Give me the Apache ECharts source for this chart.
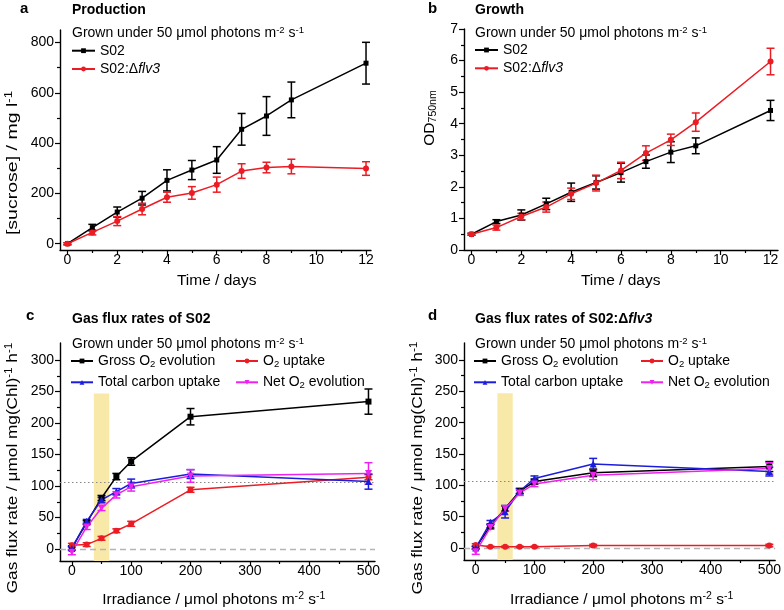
<!DOCTYPE html>
<html>
<head>
<meta charset="utf-8">
<title>Sucrose production, growth and gas flux rates</title>
<script src="https://cdn.jsdelivr.net/npm/echarts@6.0.0/dist/echarts.min.js"></script>
<style>
  html, body { margin: 0; padding: 0; background: #fff; }
  #chart { width: 784px; height: 610px; }
</style>
</head>
<body>
<div id="chart"></div>
<script>
  // ---- data ----
  // a: sucrose production
  const days = [0, 1, 2, 3, 4, 5, 6, 7, 8, 9, 12];
  const sucroseS02 = [0, 64, 126, 181, 252, 293, 333, 455, 508, 572, 718];
  const sucroseS02Err = [4, 13, 20, 27, 42, 38, 53, 63, 77, 71, 83];
  const sucroseFlv3 = [0, 45, 90, 138, 185, 202, 235, 289, 303, 307, 299];
  const sucroseFlv3Err = [4, 10, 18, 23, 20, 25, 30, 29, 21, 29, 27];

  // b: growth (OD750)
  const odS02 = [0.5, 0.9, 1.11, 1.46, 1.83, 2.14, 2.45, 2.8, 3.1, 3.3, 4.42];
  const odS02Err = [0.03, 0.06, 0.16, 0.18, 0.29, 0.21, 0.3, 0.21, 0.33, 0.25, 0.32];
  const odFlv3 = [0.5, 0.71, 1.06, 1.36, 1.78, 2.12, 2.52, 3.07, 3.49, 4.05, 5.97];
  const odFlv3Err = [0.03, 0.08, 0.1, 0.16, 0.18, 0.25, 0.26, 0.23, 0.18, 0.29, 0.42];

  // c, d: gas flux rates vs irradiance
  const irradiance = [0, 25, 50, 75, 100, 200, 500];
  const cGross = [2, 42, 81, 115, 139, 210, 234];
  const cGrossErr = [3, 3, 4, 5, 6, 13, 20];
  const cUptake = [6, 7, 17, 29, 40, 94, 114];
  const cUptakeErr = [3, 3, 3, 3, 4, 4, 4];
  const cCarbon = [1, 44, 78, 91, 104, 119, 107];
  const cCarbonErr = [3, 3, 4, 5, 7, 7, 12];
  const cNet = [-5, 35, 65, 86, 99, 116, 120];
  const cNetErr = [4, 4, 4, 5, 7, 10, 17];

  const dGross = [1, 35, 63, 91, 106, 120, 130];
  const dGrossErr = [2, 3, 4, 4, 4, 6, 8];
  const dUptake = [5, 2, 2, 2, 2, 4, 4];
  const dUptakeErr = [2, 1, 1, 1, 1, 2, 2];
  const dCarbon = [0, 41, 58, 91, 111, 134, 122];
  const dCarbonErr = [2, 3, 10, 4, 4, 9, 7];
  const dNet = [-6, 33, 63, 88, 102, 116, 127];
  const dNetErr = [4, 3, 4, 4, 4, 7, 9];

  const growthLight = [37, 63];   // shaded band: growth light
  const growthLightTop = 247;
  const refRate = 106;            // dotted reference level

  // tick values
  const dayTicks = [0, 2, 4, 6, 8, 10, 12];
  const dayMinor = [1, 3, 5, 7, 9, 11];
  const sucroseTicks = [0, 200, 400, 600, 800];
  const sucroseMinor = [100, 300, 500, 700];
  const odTicks = [0, 1, 2, 3, 4, 5, 6, 7];
  const odMinor = [0.5, 1.5, 2.5, 3.5, 4.5, 5.5, 6.5];
  const irrTicks = [0, 100, 200, 300, 400, 500];
  const irrMinor = [50, 150, 250, 350, 450];
  const rateTicks = [0, 50, 100, 150, 200, 250, 300];
  const rateMinor = [25, 75, 125, 175, 225, 275];

  // ---- styling ----
  const FONT = "'Liberation Sans', Arial, Helvetica, sans-serif";
  const BLACK = '#000000', RED = '#ec1c24', BLUE = '#1c1cdc', MAGENTA = '#ee22ee';
  const DOWN_TRI = 'path://M0,0 L10,0 L5,9 Z';

  const legendNames = {
    'S02': 'S02',
    'S02:Δflv3': 'S02:Δ{i|flv3}',
    'Gross O2 evolution': 'Gross O{sub|2} evolution',
    'O2 uptake': 'O{sub|2} uptake',
    'Total carbon uptake': 'Total carbon uptake',
    'Net O2 evolution': 'Net O{sub|2} evolution'
  };

  const chart = echarts.init(document.getElementById('chart'));

  function grids() {
    return [
      { left: 60, top: 30, width: 311, height: 220 },
      { left: 464, top: 29, width: 314, height: 221 },
      { left: 60, top: 343, width: 315, height: 218 },
      { left: 464, top: 343, width: 314, height: 217 }
    ];
  }

  // each grid gets a main axis (line, big ticks, labels) and a minor-tick axis
  function axisPair(dim, gi, range, major, minor) {
    const main = {
      type: 'value', gridIndex: gi, min: range[0], max: range[1],
      position: dim === 'x' ? 'bottom' : 'left',
      axisLine: { show: true, onZero: false, lineStyle: { color: '#000', width: 1.4 } },
      axisTick: { show: true, customValues: major, length: 5, lineStyle: { color: '#000', width: 1.2 } },
      axisLabel: { customValues: major, margin: dim === 'x' ? 3 : 6, fontSize: 14, color: '#000', fontFamily: FONT },
      splitLine: { show: false }
    };
    const sub = {
      type: 'value', gridIndex: gi, min: range[0], max: range[1],
      position: dim === 'x' ? 'bottom' : 'left',
      axisLine: { show: false, onZero: false },
      axisTick: { show: true, customValues: minor, length: 3, lineStyle: { color: '#000', width: 1.2 } },
      axisLabel: { show: false },
      splitLine: { show: false }
    };
    return [main, sub];
  }

  function line(name, gi, xs, ys, color, symbol, size) {
    return {
      type: 'line', name: name, xAxisIndex: gi * 2, yAxisIndex: gi * 2,
      data: xs.map((x, i) => [x, ys[i]]),
      symbol: symbol, symbolSize: size || 6, showAllSymbol: true,
      lineStyle: { color: color, width: 1.5 }, itemStyle: { color: color },
      silent: true, z: 3
    };
  }

  function errors(gi, xs, ys, es, color) {
    return {
      type: 'custom', xAxisIndex: gi * 2, yAxisIndex: gi * 2,
      data: xs.map((x, i) => [x, ys[i], es[i]]),
      encode: { x: 0, y: 1 }, silent: true, z: 3,
      renderItem: function (params, api) {
        const x = api.value(0), y = api.value(1), e = api.value(2);
        const hi = api.coord([x, y + e]), lo = api.coord([x, y - e]);
        const w = 4;
        const style = { stroke: color, lineWidth: 1.5 };
        return {
          type: 'group', children: [
            { type: 'line', shape: { x1: hi[0], y1: hi[1], x2: lo[0], y2: lo[1] }, style: style },
            { type: 'line', shape: { x1: hi[0] - w, y1: hi[1], x2: hi[0] + w, y2: hi[1] }, style: style },
            { type: 'line', shape: { x1: lo[0] - w, y1: lo[1], x2: lo[0] + w, y2: lo[1] }, style: style }
          ]
        };
      }
    };
  }

  // shaded band + reference lines for the gas flux panels
  function refs(gi, yMin) {
    return {
      type: 'line', xAxisIndex: gi * 2, yAxisIndex: gi * 2, data: [], silent: true,
      markArea: {
        silent: true, z: 1,
        itemStyle: { color: '#f8e9a8' },
        data: [[{ xAxis: growthLight[0], yAxis: yMin }, { xAxis: growthLight[1], yAxis: growthLightTop }]]
      },
      markLine: {
        silent: true, symbol: 'none', z: 1, label: { show: false },
        data: [
          { yAxis: refRate, lineStyle: { color: '#888', type: [1.5, 2.5], width: 1.2 } },
          { yAxis: 0, lineStyle: { color: '#b5b5b5', type: [6, 4], width: 1.4 } }
        ]
      }
    };
  }

  function legend(left, top, names, gap, itemWidth) {
    return {
      orient: 'vertical', left: left, top: top, data: names,
      itemWidth: itemWidth, itemHeight: 6, itemGap: gap, padding: 0,
      selectedMode: false,
      formatter: n => legendNames[n],
      textStyle: {
        fontSize: 14, fontFamily: FONT, color: '#000', lineHeight: 16,
        rich: {
          sub: { fontSize: 9.5, fontFamily: FONT, color: '#000', verticalAlign: 'bottom', lineHeight: 8 },
          i: { fontSize: 14, fontFamily: FONT, color: '#000', fontStyle: 'italic', lineHeight: 16 }
        }
      }
    };
  }

  function label(x, y, text, opt) {
    opt = opt || {};
    const size = opt.size || 14;
    const lh = Math.round(size * 1.15);
    const weight = opt.bold ? 'bold' : 'normal';
    return {
      type: 'text', x: x, y: y, rotation: opt.rotate ? Math.PI / 2 : 0,
      scaleX: opt.stretch || 1, silent: true,
      style: {
        text: text, fill: '#000', fontSize: size, fontFamily: FONT, fontWeight: weight,
        align: opt.align || 'left', verticalAlign: 'middle', lineHeight: lh,
        rich: {
          sup: { fill: '#000', fontSize: size * 0.68, fontFamily: FONT, fontWeight: weight, verticalAlign: 'top', lineHeight: lh * 0.4 },
          sub: { fill: '#000', fontSize: size * 0.68, fontFamily: FONT, fontWeight: weight, verticalAlign: 'bottom', lineHeight: lh * 0.5 },
          i: { fill: '#000', fontSize: size, fontFamily: FONT, fontWeight: weight, fontStyle: 'italic', lineHeight: lh }
        }
      }
    };
  }

  const grown = 'Grown under 50 μmol photons m{sup|-2} s{sup|-1}';
  const irrName = 'Irradiance / μmol photons m{sup|-2} s{sup|-1}';
  const rateName = 'Gas flux rate / μmol mg(Chl){sup|-1} h{sup|-1}';

  const xAxes = [].concat(
    axisPair('x', 0, [-0.3, 12.2], dayTicks, dayMinor),
    axisPair('x', 1, [-0.3, 12.3], dayTicks, dayMinor),
    axisPair('x', 2, [-20, 511], irrTicks, irrMinor),
    axisPair('x', 3, [-20, 510], irrTicks, irrMinor)
  );
  const yAxes = [].concat(
    axisPair('y', 0, [-25, 850], sucroseTicks, sucroseMinor),
    axisPair('y', 1, [0, 7], odTicks, odMinor),
    axisPair('y', 2, [-19, 327], rateTicks, rateMinor),
    axisPair('y', 3, [-19, 327], rateTicks, rateMinor)
  );

  const series = [
    line('S02', 0, days, sucroseS02, BLACK, 'rect', 5),
    errors(0, days, sucroseS02, sucroseS02Err, BLACK),
    line('S02:Δflv3', 0, days, sucroseFlv3, RED, 'circle', 6),
    errors(0, days, sucroseFlv3, sucroseFlv3Err, RED),

    line('S02', 1, days, odS02, BLACK, 'rect', 5),
    errors(1, days, odS02, odS02Err, BLACK),
    line('S02:Δflv3', 1, days, odFlv3, RED, 'circle', 6),
    errors(1, days, odFlv3, odFlv3Err, RED),

    refs(2, -19),
    line('Gross O2 evolution', 2, irradiance, cGross, BLACK, 'rect', 6),
    errors(2, irradiance, cGross, cGrossErr, BLACK),
    line('O2 uptake', 2, irradiance, cUptake, RED, 'circle', 6),
    errors(2, irradiance, cUptake, cUptakeErr, RED),
    line('Total carbon uptake', 2, irradiance, cCarbon, BLUE, 'triangle', 7),
    errors(2, irradiance, cCarbon, cCarbonErr, BLUE),
    line('Net O2 evolution', 2, irradiance, cNet, MAGENTA, DOWN_TRI, 7),
    errors(2, irradiance, cNet, cNetErr, MAGENTA),

    refs(3, -19),
    line('Gross O2 evolution', 3, irradiance, dGross, BLACK, 'rect', 6),
    errors(3, irradiance, dGross, dGrossErr, BLACK),
    line('O2 uptake', 3, irradiance, dUptake, RED, 'circle', 6),
    errors(3, irradiance, dUptake, dUptakeErr, RED),
    line('Total carbon uptake', 3, irradiance, dCarbon, BLUE, 'triangle', 7),
    errors(3, irradiance, dCarbon, dCarbonErr, BLUE),
    line('Net O2 evolution', 3, irradiance, dNet, MAGENTA, DOWN_TRI, 7),
    errors(3, irradiance, dNet, dNetErr, MAGENTA)
  ];

  chart.setOption({
    animation: false,
    backgroundColor: '#ffffff',
    textStyle: { fontFamily: FONT },
    grid: grids(),
    xAxis: xAxes,
    yAxis: yAxes,
    legend: [
      legend(71, 42.7, ['S02', 'S02:Δflv3'], 2.3, 23),
      legend(474, 42, ['S02', 'S02:Δflv3'], 2.3, 23),
      legend(70, 353, ['Gross O2 evolution', 'Total carbon uptake'], 5.3, 22),
      legend(235, 353, ['O2 uptake', 'Net O2 evolution'], 5.3, 22),
      legend(473, 353, ['Gross O2 evolution', 'Total carbon uptake'], 5.3, 22),
      legend(640, 353, ['O2 uptake', 'Net O2 evolution'], 5.3, 22)
    ],
    graphic: [
      label(20, 8.5, 'a', { bold: true, size: 15 }),
      label(428, 8.5, 'b', { bold: true, size: 15 }),
      label(26, 316, 'c', { bold: true, size: 15 }),
      label(428, 316, 'd', { bold: true, size: 15 }),
      label(72, 10, 'Production', { bold: true }),
      label(475, 10, 'Growth', { bold: true }),
      label(72, 319.5, 'Gas flux rates of S02', { bold: true }),
      label(475, 319.5, 'Gas flux rates of S02:Δ{i|flv3}', { bold: true }),
      label(72, 33.3, grown),
      label(475, 33.3, grown),
      label(72, 344, grown),
      label(475, 344, grown),
      label(13, 163, '[sucrose] / mg l{sup|-1}', { size: 15.5, rotate: true, align: 'center', stretch: 1.26 }),
      label(430, 118, 'OD{sub|750nm}', { size: 15.5, rotate: true, align: 'center' }),
      label(13, 468, rateName, { size: 15.5, rotate: true, align: 'center', stretch: 1.11 }),
      label(418, 468, rateName, { size: 15.5, rotate: true, align: 'center', stretch: 1.12 }),
      label(216.7, 280.5, 'Time / days', { size: 15.5, align: 'center' }),
      label(620.7, 280.5, 'Time / days', { size: 15.5, align: 'center' }),
      label(213.8, 600, irrName, { size: 15.5, align: 'center' }),
      label(621.7, 600, irrName, { size: 15.5, align: 'center' })
    ],
    series: series
  });
</script>
</body>
</html>
